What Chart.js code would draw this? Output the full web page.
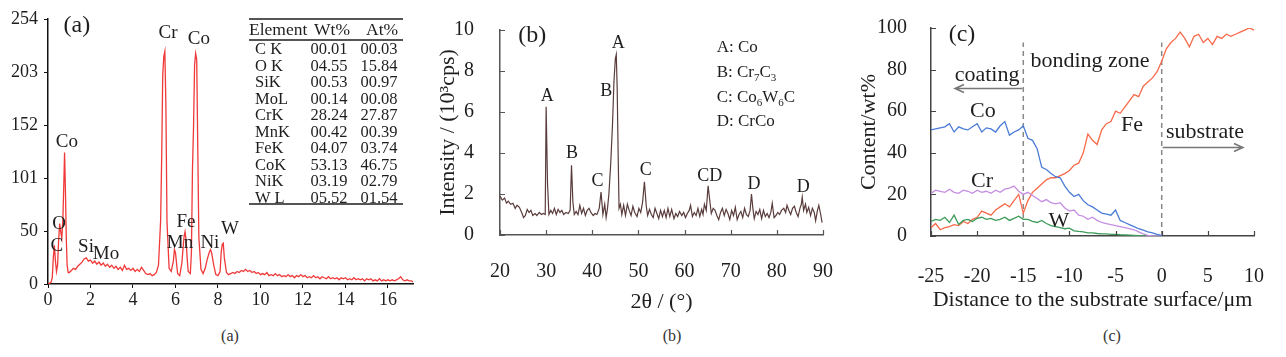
<!DOCTYPE html>
<html><head><meta charset="utf-8">
<script src="https://cdn.jsdelivr.net/npm/chart.js@4/dist/chart.umd.min.js"></script>
<style>
body{margin:0;background:#fff;width:1286px;height:357px;overflow:hidden;position:relative;font-family:"Liberation Serif","Times New Roman",serif;color:#1e1e1e;}
.cv{position:absolute;top:0;height:320px;}
.cap{position:absolute;top:327px;width:40px;margin-left:-20px;text-align:center;font-size:16px;color:#333;}
.t{position:absolute;white-space:nowrap;line-height:1;}
.ln{position:absolute;background:#555;}
</style></head><body>
<div class="cv" style="left:0;width:430px"><canvas id="ca" width="430" height="320"></canvas></div>
<div class="cv" style="left:420px;width:430px"><canvas id="cb" width="430" height="320"></canvas></div>
<div class="cv" style="left:850px;width:436px"><canvas id="cc" width="436" height="320"></canvas></div>
<div id="tbl"></div>
<div class="cap" style="left:230px">(a)</div>
<div class="cap" style="left:672px">(b)</div>
<div class="cap" style="left:1112px">(c)</div>
<script>
// ---------- (a) EDS spectrum ----------
const edsEnergy = [0,0.1,0.15,0.2,0.25,0.3,0.35,0.4,0.45,0.5,0.55,0.6,0.65,0.7,0.75,0.78,0.82,0.86,0.9,0.95,1.0,
 1.1,1.2,1.3,1.4,1.5,1.6,1.7,1.8,1.9,2.0,2.1,2.2,2.3,2.4,2.5,2.6,2.7,2.8,2.9,3.0,3.1,3.2,3.3,3.4,3.5,3.6,3.7,3.8,3.9,4.0,4.1,4.2,4.3,4.4,4.5,4.6,4.7,4.8,4.9,5.0,5.1,
 5.2,5.3,5.35,5.4,5.45,5.5,5.55,5.6,5.7,5.8,5.9,5.95,6.0,6.05,6.1,6.2,6.3,6.4,6.45,6.5,6.55,6.6,6.7,6.75,6.8,6.85,6.9,6.95,7.0,7.05,7.1,7.2,7.3,7.4,7.5,7.6,7.65,7.7,7.8,7.9,8.0,8.1,8.15,8.2,8.25,8.3,8.4,8.5,8.6,
 8.7,8.8,8.9,9.0,9.1,9.2,9.3,9.4,9.5,9.6,9.7,9.8,9.9,10.0,10.1,10.2,10.3,10.4,10.5,10.6,10.7,10.8,10.9,11.0,11.1,11.2,11.3,11.4,11.5,11.6,11.7,11.8,11.9,12.0,12.1,12.2,12.3,12.4,12.5,12.6,12.7,12.8,12.9,13.0,13.1,13.2,13.3,13.4,13.5,13.6,13.7,13.8,13.9,14.0,14.1,14.2,14.3,14.4,14.5,14.6,14.7,14.8,14.9,15.0,15.1,15.2,15.3,15.4,15.5,15.6,15.7,15.8,15.9,16.0,16.1,16.2,16.3,16.4,16.5,16.6,16.7,16.8,16.9,17.0,17.1,17.2];
const edsCounts = [0,1,2,6,25,37,22,12,18,42,58,50,44,62,100,126,90,45,18,11,11,
 13,15,14,17,19,21,24,25,22,23,20,22,19,21,18,20,17,19,16,18,15,17,14,16,13,18,14,15,13,15,12,14,12,16,13,10,9,10,8,9,11,
 18,60,120,200,218,223,170,60,15,12,22,33,30,20,10,8,20,45,50,42,25,12,10,30,110,150,210,221,215,130,45,14,10,15,24,31,33,30,18,9,8,12,30,38,39,25,11,9,10,
 11,10,12,11,13,12,14,12,13,11,12,10,11,9,10,9,11,8,9,8,10,8,9,7,8,7,9,7,8,6,8,7,9,7,8,6,7,6,8,6,7,5,7,6,5,7,5,6,5,6,4,6,5,6,4,5,4,6,4,5,4,5,3,5,4,5,3,4,3,5,3,4,3,4,3,4,3,4,5,7,4,3,4,3,3,2];
const edsXTicks = [0,2,4,6,8,10,12,14,16];
const edsYTicks = [0,50.8,101.6,152.4,203.2,254];
const tableHead = ["Element","Wt%","At%"];
const tableElements = ["C K","O K","SiK","MoL","CrK","MnK","FeK","CoK","NiK","W L"];
const tableWt = ["00.01","04.55","00.53","00.14","28.24","00.42","04.07","53.13","03.19","05.52"];
const tableAt = ["00.03","15.84","00.97","00.08","27.87","00.39","03.74","46.75","02.79","01.54"];

// ---------- (b) XRD pattern ----------
const xrdAngle = [20,20.5,21,21.4,21.8,22.3,22.8,23.3,23.7,24.2,24.7,25.1,25.5,25.9,26.3,26.7,27.1,27.6,28.0,28.5,29.0,29.4,29.8,30.0,30.3,30.6,31.0,31.4,31.8,32.2,32.6,33.0,33.4,33.8,34.3,34.8,35.2,35.5,35.8,36.1,36.5,36.9,37.3,37.7,38.1,38.5,38.9,39.3,39.7,40.2,40.6,41.0,41.5,41.9,42.3,42.7,43.0,43.3,43.6,44.0,44.4,44.7,45.0,45.2,45.4,45.6,45.8,46.1,46.4,46.8,47.2,47.6,48.0,48.4,48.8,49.2,49.7,50.1,50.5,50.9,51.3,51.7,52.0,52.4,52.8,53.2,53.6,54.0,54.4,54.8,55.2,55.6,56.0,56.4,56.8,57.2,57.7,58.1,58.5,58.9,59.4,59.8,60.2,60.6,61.0,61.3,61.7,62.1,62.5,62.9,63.3,63.7,64.0,64.3,64.7,65.1,65.5,65.8,66.2,66.6,67.0,67.4,67.8,68.2,68.6,69.0,69.4,69.8,70.2,70.6,71.0,71.4,71.8,72.2,72.6,73.0,73.4,73.8,74.2,74.5,74.8,75.1,75.5,75.9,76.3,76.7,77.1,77.5,77.9,78.3,78.7,79.0,79.4,79.8,80.2,80.6,81.0,81.5,81.9,82.2,82.6,83.0,83.4,83.8,84.2,84.6,85.0,85.3,85.5,85.8,86.2,86.5,86.9,87.3,87.7,88.1,88.4,88.8,89.1,89.5,89.8];
const xrdIntensity = [1.9,1.7,1.8,1.55,1.65,1.5,1.55,1.3,1.45,1.35,1.1,0.85,0.95,1.25,1.1,1.2,0.95,1.05,0.95,1.1,1.0,1.05,1.0,6.25,2.5,1.0,1.2,1.05,1.3,1.0,1.25,1.1,1.2,1.0,1.1,1.05,1.2,3.4,1.6,1.0,1.15,1.0,1.45,1.05,1.3,0.95,1.2,1.3,1.1,0.95,1.05,1.0,1.3,2.1,1.0,1.5,0.85,1.3,2.0,3.5,5.5,7.5,8.6,8.8,7.1,4.0,1.3,1.5,1.0,1.45,0.95,1.5,1.2,0.95,1.4,1.1,0.9,1.3,1.1,1.6,2.6,1.4,0.95,1.25,1.0,0.85,1.3,1.05,0.8,1.2,0.9,1.2,0.85,1.3,0.9,1.25,0.8,1.05,0.9,1.15,0.95,1.1,0.85,1.05,1.2,1.45,0.9,1.1,0.95,1.3,0.9,1.25,1.0,1.5,1.2,2.4,1.6,1.05,1.3,1.2,0.95,0.75,1.1,1.3,0.95,1.25,1.05,0.75,1.2,0.95,1.35,0.75,1.0,1.15,0.85,1.3,1.0,0.9,1.2,2.0,1.3,0.8,1.15,1.0,1.25,0.8,1.2,0.9,1.05,0.85,1.1,1.55,0.85,0.95,1.1,1.0,1.2,1.3,1.1,1.45,1.2,1.0,1.3,1.4,1.1,0.9,1.3,1.5,1.85,1.2,1.5,1.1,1.35,0.95,1.3,1.1,0.7,1.2,1.45,1.0,0.6];
const xrdXTicks = [20,30,40,50,60,70,80,90];
const xrdYTicks = [0,2,4,6,8,10];
const xrdPhases = ["A: Co","B: Cr_7C_3","C: Co_6W_6C","D: CrCo"];

// ---------- (c) line scan ----------
const lsDistance = [-25,-24.5,-24,-23.5,-23,-22.5,-22,-21.5,-21,-20.5,-20,-19.5,-19,-18.5,-18,-17.5,-17,-16.5,-16,-15.5,-15,-14.5,-14,-13.5,-13,-12.5,-12,-11.5,-11,-10.5,-10,-9.5,-9,-8.5,-8,-7.5,-7,-6.5,-6,-5.5,-5,-4.5,-4,-3.5,-3,-2.5,-2,-1.5,-1,-0.5,0,0.5,1,1.5,2,2.5,3,3.5,4,4.5,5,5.5,6,6.5,7,7.5,8,8.5,9,9.5,10];
const lsCo = [51,51.5,52,52.5,54,50,52.5,51.5,51,52.5,54,50,52,51.5,50,53,55,48.5,50,51,53,47,46,42,33,32,30,28.5,28,24,21,19,20,17,15,14,12.5,11,10.5,10,12.5,7.5,6.5,5.5,4.5,3.5,2.8,2,1.5,0.8,0.2];
const lsCr = [20.5,22,21.5,21,22.5,21,20.5,22,21.5,20.5,22,21,21.5,20.5,22,21,22.5,23,24,21.5,20,21,19.5,18,16.5,17.5,16,15.5,16,13.5,12,12.5,10,9.5,8,9,7.5,6.5,6,5.5,5,4.5,4,3.5,3,2,1,0.3,0,0,0];
const lsW = [7,8,7.5,9,6.5,10,5.5,7.5,8,7,8.5,9,8,8.5,7.5,8,9,7.5,8.5,9.5,8,8,7,6.5,7.5,6,5,4.5,4,3.5,3.8,2.5,2.2,2,1.5,1.5,1.2,1,1,0.8,0.8,0.6,0.5,0.4,0.3,0.2,0.2,0.1,0,0,0];
const lsFe = [4,6,3,4,4.5,5.5,5,7,6,8,9,12,11,10,12.5,14,15.5,14,17,20,11,17,21,23,25,27,28,28,29,30,31.5,34,35,40,49,46,44,51,54,55,60,59,62,65,68,67,72,74,76,79,84,90,93,95,98,95,91,96,97,93,95,92,96,95,97,96,97,98,99,100,99];
const lsXTicks = [-25,-20,-15,-10,-5,0,5,10];
const lsYTicks = [0,20,40,60,80,100];
const lsBoundaries = [-15,0];

// ---------- helpers ----------
const FAM = '"Liberation Serif"';
const FONT = 'Liberation Serif';
function pts(xs, ys){ return ys.map((v,i)=>({x:xs[i], y:v})); }
function drawRich(ctx, text, x, y, size, align){
  const parts=[]; const re=/_(\d)/g; let last=0, m;
  while((m=re.exec(text))){ if(m.index>last) parts.push({s:text.slice(last,m.index),sub:false}); parts.push({s:m[1],sub:true}); last=re.lastIndex; }
  if(last<text.length) parts.push({s:text.slice(last),sub:false});
  const fN=size+'px '+FAM, fS=Math.round(size*0.62)+'px '+FAM;
  let w=0; parts.forEach(p=>{ctx.font=p.sub?fS:fN; p.w=ctx.measureText(p.s).width; w+=p.w;});
  let cx = align==='left'?x:(align==='right'?x-w:x-w/2);
  ctx.textAlign='left'; ctx.textBaseline='middle';
  parts.forEach(p=>{ctx.font=p.sub?fS:fN; ctx.fillText(p.s,cx,p.sub?y+size*0.3:y); cx+=p.w;});
}
const innerTicks = {
  id:'innerTicks',
  afterDatasetsDraw(chart, args, o){
    if(!o || !o.len) return;
    const {ctx, chartArea:a, scales:{x,y}} = chart;
    ctx.save(); ctx.strokeStyle=o.color; ctx.lineWidth=o.width; ctx.beginPath();
    x.ticks.forEach(t=>{const p=Math.round(x.getPixelForValue(t.value))+0.5; ctx.moveTo(p,a.bottom); ctx.lineTo(p,a.bottom-o.len);});
    y.ticks.forEach(t=>{const p=Math.round(y.getPixelForValue(t.value))+0.5; ctx.moveTo(a.left,p); ctx.lineTo(a.left+o.len,p);});
    ctx.stroke(); ctx.restore();
  }
};
const annot = {
  id:'annot',
  afterDatasetsDraw(chart, args, o){
    if(!o || !o.items) return;
    const {ctx, scales:{x,y}} = chart;
    ctx.save(); ctx.fillStyle=o.color||'#222';
    for(const it of o.items){ drawRich(ctx, it.t, x.getPixelForValue(it.x), y.getPixelForValue(it.y), it.size||o.size, it.align||'center'); }
    ctx.restore();
  }
};
const arrows = {
  id:'arrows',
  afterDatasetsDraw(chart, args, o){
    if(!o || !o.items) return;
    const {ctx, scales:{x,y}} = chart;
    ctx.save(); ctx.strokeStyle=o.color; ctx.lineWidth=1.5;
    for(const it of o.items){
      const x1=x.getPixelForValue(it.x1), x2=x.getPixelForValue(it.x2), py=Math.round(y.getPixelForValue(it.y))+0.5;
      const d = x2>x1?1:-1;
      ctx.beginPath(); ctx.moveTo(x1,py); ctx.lineTo(x2,py);
      ctx.moveTo(x2-d*9,py-4); ctx.lineTo(x2,py); ctx.lineTo(x2-d*9,py+4); ctx.stroke();
    }
    ctx.restore();
  }
};
Chart.register(innerTicks, annot, arrows);
Chart.defaults.font.family = FONT;
Chart.defaults.color = '#1e1e1e';

function setTicks(arr){ return s => { s.ticks = arr.map(v=>({value:v})); }; }

// ---------- chart (a) ----------
new Chart(document.getElementById('ca'), {
  type:'line',
  data:{ datasets:[{ data: pts(edsEnergy, edsCounts), borderColor:'#f03a3a', borderWidth:1.3, pointRadius:0, tension:0 }]},
  options:{
    responsive:false, animation:false, events:[],
    layout:{padding:{left:0, top:19, right:17, bottom:0}},
    plugins:{ legend:{display:false}, tooltip:{enabled:false},
      annot:{ size:19, color:'#1e1e1e', items:[
        {t:'(a)', x:1.36, y:248, size:24},
        {t:'Cr', x:5.65, y:240.6}, {t:'Co', x:7.1, y:234.8}, {t:'Co', x:0.89, y:136},
        {t:'O', x:0.52, y:57.5}, {t:'C', x:0.42, y:36.4}, {t:'Si', x:1.79, y:35.5}, {t:'Mo', x:2.73, y:28.8},
        {t:'Fe', x:6.49, y:59.4}, {t:'Mn', x:6.21, y:39.3}, {t:'Ni', x:7.62, y:39.3}, {t:'W', x:8.56, y:52.7}
      ]}
    },
    scales:{
      x:{ type:'linear', min:0, max:17.18, afterBuildTicks:setTicks(edsXTicks), afterFit:s=>{s.height=36;},
        grid:{display:true, drawOnChartArea:false, drawTicks:true, tickLength:4, color:'#111', lineWidth:1},
        border:{display:true, color:'#111', width:1.5},
        ticks:{font:{size:18}, color:'#1e1e1e', padding:1, maxRotation:0, autoSkip:false} },
      y:{ type:'linear', min:0, max:254, afterBuildTicks:setTicks(edsYTicks), afterFit:s=>{s.width=48;},
        grid:{display:true, drawOnChartArea:false, drawTicks:true, tickLength:4, color:'#111', lineWidth:1},
        border:{display:true, color:'#111', width:1.5},
        ticks:{font:{size:18}, color:'#1e1e1e', padding:6, autoSkip:false, callback:v=>String(Math.floor(v))} }
    }
  }
});

// ---------- chart (b) ----------
new Chart(document.getElementById('cb'), {
  type:'line',
  data:{ datasets:[{ data: pts(xrdAngle, xrdIntensity), borderColor:'#5a3c3c', borderWidth:1.2, pointRadius:0, tension:0 }]},
  options:{
    responsive:false, animation:false, events:[],
    layout:{padding:{left:0, top:14, right:22, bottom:0}},
    plugins:{ legend:{display:false}, tooltip:{enabled:false},
      innerTicks:{len:5, color:'#555', width:1.2},
      annot:{ size:18, color:'#1e1e1e', items:[
        {t:'(b)', x:27.0, y:9.73, size:24},
        {t:'A', x:30.24, y:6.79}, {t:'B', x:35.58, y:3.98}, {t:'C', x:41.13, y:2.62}, {t:'B', x:43.05, y:7.01},
        {t:'A', x:45.61, y:9.37}, {t:'C', x:51.58, y:3.17}, {t:'CD', x:65.45, y:2.85}, {t:'D', x:75.06, y:2.49}, {t:'D', x:85.73, y:2.35},
        {t:xrdPhases[0], x:66.95, y:9.14, size:17, align:'left'},
        {t:xrdPhases[1], x:66.95, y:7.92, size:17, align:'left'},
        {t:xrdPhases[2], x:66.95, y:6.70, size:17, align:'left'},
        {t:xrdPhases[3], x:66.95, y:5.52, size:17, align:'left'}
      ]}
    },
    scales:{
      x:{ type:'linear', min:20, max:90, afterBuildTicks:setTicks(xrdXTicks), afterFit:s=>{s.height=85;},
        grid:{display:false}, border:{display:true, color:'#555', width:1.5},
        ticks:{font:{size:20}, color:'#1e1e1e', padding:17, maxRotation:0, autoSkip:false},
        title:{display:true, text:'2θ / (°)', font:{size:22}, color:'#1e1e1e', padding:{top:0,bottom:4.8}} },
      y:{ type:'linear', min:0, max:10, afterBuildTicks:setTicks(xrdYTicks), afterFit:s=>{s.width=80;},
        grid:{display:false}, border:{display:true, color:'#555', width:1.5},
        ticks:{font:{size:20}, color:'#1e1e1e', padding:18, autoSkip:false},
        title:{display:true, text:'Intensity / (10³cps)', font:{size:22}, color:'#1e1e1e', padding:{top:14.8,bottom:0}} }
    }
  }
});

// ---------- chart (c) ----------
const dash = (xv)=>({ data:[{x:xv,y:0},{x:xv,y:93}], borderColor:'#888', borderWidth:1.5, borderDash:[5,4], pointRadius:0 });
new Chart(document.getElementById('cc'), {
  type:'line',
  data:{ datasets:[
    { label:'Co', data: pts(lsDistance, lsCo), borderColor:'#4a7bd6', borderWidth:1.3, pointRadius:0, tension:0 },
    { label:'Cr', data: pts(lsDistance, lsCr), borderColor:'#c48ee2', borderWidth:1.3, pointRadius:0, tension:0 },
    { label:'W', data: pts(lsDistance, lsW), borderColor:'#3c9c5a', borderWidth:1.3, pointRadius:0, tension:0 },
    { label:'Fe', data: pts(lsDistance, lsFe), borderColor:'#f86a4a', borderWidth:1.3, pointRadius:0, tension:0 },
    dash(lsBoundaries[0]), dash(lsBoundaries[1])
  ]},
  options:{
    responsive:false, animation:false, events:[],
    layout:{padding:{left:0, top:15, right:32, bottom:0}},
    plugins:{ legend:{display:false}, tooltip:{enabled:false},
      innerTicks:{len:5, color:'#444', width:1.2},
      arrows:{ color:'#777', items:[ {x1:-15.1, x2:-22.4, y:71.3}, {x1:0.1, x2:8.8, y:43} ] },
      annot:{ size:22, color:'#1e1e1e', items:[
        {t:'(c)', x:-21.64, y:96.8, size:24},
        {t:'bonding zone', x:-7.77, y:84.2}, {t:'coating', x:-18.93, y:77.4}, {t:'substrate', x:4.69, y:49.8},
        {t:'Co', x:-19.37, y:60.2}, {t:'Cr', x:-19.47, y:26.2}, {t:'W', x:-11.13, y:7.2}, {t:'Fe', x:-3.22, y:53.4}
      ]}
    },
    scales:{
      x:{ type:'linear', min:-25, max:10, afterBuildTicks:setTicks(lsXTicks), afterFit:s=>{s.height=84;},
        grid:{display:false}, border:{display:true, color:'#444', width:1.5},
        ticks:{font:{size:20}, color:'#1e1e1e', padding:21, maxRotation:0, autoSkip:false},
        title:{display:true, text:'Distance to the substrate surface/μm', font:{size:22}, color:'#1e1e1e', padding:{top:0,bottom:6.8}} },
      y:{ type:'linear', min:0, max:100, afterBuildTicks:setTicks(lsYTicks), afterFit:s=>{s.width=81;},
        grid:{display:false}, border:{display:true, color:'#444', width:1.5},
        ticks:{font:{size:20}, color:'#1e1e1e', padding:16, autoSkip:false},
        title:{display:true, text:'Content/wt%', font:{size:22}, color:'#1e1e1e', padding:{top:5.8,bottom:0}} }
    }
  }
});

// ---------- table in (a) ----------
(function(){
  const host = document.getElementById('tbl');
  const add = (html)=>{ host.insertAdjacentHTML('beforeend', html); };
  add('<div class="ln" style="left:249px;top:18px;width:154px;height:2px"></div>');
  add('<div class="ln" style="left:249px;top:39px;width:154px;height:1.5px"></div>');
  add('<div class="ln" style="left:249px;top:203px;width:154px;height:2px"></div>');
  add('<div class="t" style="left:249px;top:21px;font-size:17.5px">'+tableHead[0]+'</div>');
  add('<div class="t" style="left:314px;top:21px;font-size:17.5px">'+tableHead[1]+'</div>');
  add('<div class="t" style="left:366px;top:21px;font-size:17.5px">'+tableHead[2]+'</div>');
  tableElements.forEach((e,i)=>{
    const top = 49.3 + i*16.5 - 8.3;
    add('<div class="t" style="left:255px;top:'+top+'px;font-size:16.5px">'+e+'</div>');
    add('<div class="t" style="left:304px;width:50px;text-align:center;top:'+top+'px;font-size:16.5px">'+tableWt[i]+'</div>');
    add('<div class="t" style="left:354px;width:50px;text-align:center;top:'+top+'px;font-size:16.5px">'+tableAt[i]+'</div>');
  });
})();
</script>
</body></html>
